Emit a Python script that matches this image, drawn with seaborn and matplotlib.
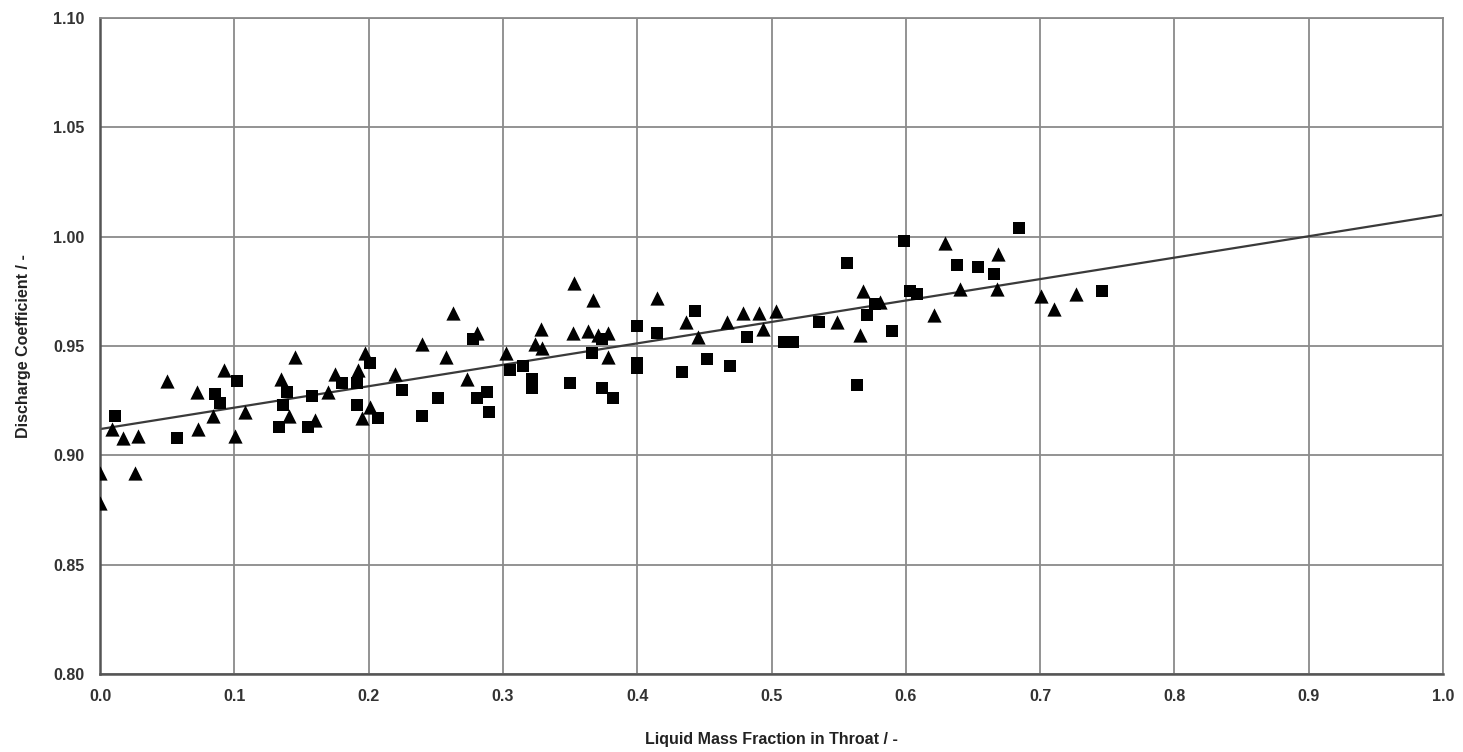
import numpy as np
import pandas as pd
import matplotlib
matplotlib.use("Agg")
import matplotlib.pyplot as plt
import seaborn as sns

# ---- data ----
tri_x = [0.000, 0.000, 0.009, 0.017, 0.026, 0.028, 0.050, 0.072, 0.073, 0.084, 0.092, 0.1005, 0.108,
         0.135, 0.141, 0.145, 0.160, 0.170, 0.175, 0.192, 0.195, 0.197, 0.201, 0.220, 0.240, 0.258,
         0.263, 0.273, 0.281, 0.302, 0.324, 0.328, 0.329, 0.352, 0.353, 0.363, 0.367, 0.371, 0.378,
         0.378, 0.415, 0.436, 0.445, 0.467, 0.479, 0.491, 0.494, 0.503, 0.549, 0.566, 0.568, 0.581,
         0.621, 0.629, 0.640, 0.668, 0.669, 0.701, 0.710, 0.727]
tri_y = [0.892, 0.878, 0.912, 0.908, 0.892, 0.909, 0.934, 0.929, 0.912, 0.918, 0.939, 0.909, 0.920,
         0.935, 0.918, 0.945, 0.916, 0.929, 0.937, 0.939, 0.917, 0.947, 0.922, 0.937, 0.951, 0.945,
         0.965, 0.935, 0.956, 0.947, 0.951, 0.958, 0.949, 0.956, 0.979, 0.957, 0.971, 0.955, 0.956,
         0.945, 0.972, 0.961, 0.954, 0.961, 0.965, 0.965, 0.958, 0.966, 0.961, 0.955, 0.975, 0.970,
         0.964, 0.997, 0.976, 0.976, 0.992, 0.973, 0.967, 0.974]

sq_x = [0.011, 0.057, 0.086, 0.089, 0.102, 0.133, 0.136, 0.139, 0.155, 0.158, 0.180, 0.191, 0.191,
        0.201, 0.207, 0.225, 0.240, 0.252, 0.278, 0.281, 0.288, 0.290, 0.305, 0.315, 0.322, 0.322,
        0.350, 0.366, 0.374, 0.374, 0.382, 0.400, 0.400, 0.400, 0.415, 0.433, 0.443, 0.452, 0.469,
        0.482, 0.509, 0.516, 0.535, 0.556, 0.564, 0.571, 0.577, 0.590, 0.599, 0.603, 0.608, 0.638,
        0.654, 0.666, 0.684, 0.746]
sq_y = [0.918, 0.908, 0.928, 0.924, 0.934, 0.913, 0.923, 0.929, 0.913, 0.927, 0.933, 0.933, 0.923,
        0.942, 0.917, 0.930, 0.918, 0.926, 0.953, 0.926, 0.929, 0.920, 0.939, 0.941, 0.935, 0.931,
        0.933, 0.947, 0.953, 0.931, 0.926, 0.959, 0.942, 0.940, 0.956, 0.938, 0.966, 0.944, 0.941,
        0.954, 0.952, 0.952, 0.961, 0.988, 0.932, 0.964, 0.969, 0.957, 0.998, 0.975, 0.974, 0.987,
        0.986, 0.983, 1.004, 0.975]

trend_intercept = 0.912
trend_slope = 0.098
trend_x = [0.0, 1.0]

x_ticks = [0.0, 0.1, 0.2, 0.3, 0.4, 0.5, 0.6, 0.7, 0.8, 0.9, 1.0]
y_ticks = [0.80, 0.85, 0.90, 0.95, 1.00, 1.05, 1.10]
x_label = "Liquid Mass Fraction in Throat / -"
y_label = "Discharge Coefficient / -"

# ---- build frames ----
df = pd.concat([
    pd.DataFrame({"x": tri_x, "y": tri_y, "series": "triangle"}),
    pd.DataFrame({"x": sq_x, "y": sq_y, "series": "square"}),
], ignore_index=True)
trend = pd.DataFrame({"x": trend_x,
                      "y": [trend_intercept + trend_slope * v for v in trend_x]})

sns.set_style("white")
plt.rcParams['font.family'] = ['Liberation Sans', 'DejaVu Sans']

fig = plt.figure(figsize=(14.63, 7.52), dpi=100)
ax = fig.add_axes([100 / 1463, 78 / 752, 1343 / 1463, 656 / 752])

sns.lineplot(data=trend, x="x", y="y", ax=ax, color="#3a3a3a", lw=1.6, zorder=2)
sns.scatterplot(data=df[df.series == "triangle"], x="x", y="y", ax=ax, marker="^",
                color="black", s=105, edgecolor="black", linewidth=0, zorder=3, legend=False)
sns.scatterplot(data=df[df.series == "square"], x="x", y="y", ax=ax, marker="s",
                color="black", s=66, edgecolor="black", linewidth=0, zorder=3, legend=False)

ax.set_xlim(0, 1.0)
ax.set_ylim(0.80, 1.10)
ax.set_xticks(x_ticks)
ax.set_yticks(y_ticks)
ax.set_xticklabels([f"{v:.1f}" for v in x_ticks])
ax.set_yticklabels([f"{v:.2f}" for v in y_ticks])
ax.grid(True, color="#8a8a8a", lw=1.3)
ax.set_axisbelow(True)
for side in ["top", "right"]:
    ax.spines[side].set_color("#8a8a8a")
    ax.spines[side].set_linewidth(1.3)
for side in ["left", "bottom"]:
    ax.spines[side].set_color("#555555")
    ax.spines[side].set_linewidth(1.8)
ax.tick_params(axis="both", direction="out", length=5, width=1.2, color="#555555",
               labelsize=11.5, labelcolor="#333333")
ax.tick_params(axis="x", pad=6)
ax.tick_params(axis="y", pad=6)
for lab in ax.get_xticklabels() + ax.get_yticklabels():
    lab.set_fontweight("bold")

ax.set_xlabel(x_label, fontsize=11.5, fontweight="bold", color="#222222", labelpad=20)
ax.set_ylabel(y_label, fontsize=11.5, fontweight="bold", color="#222222", labelpad=16)

fig.savefig("out.png", dpi=100)
